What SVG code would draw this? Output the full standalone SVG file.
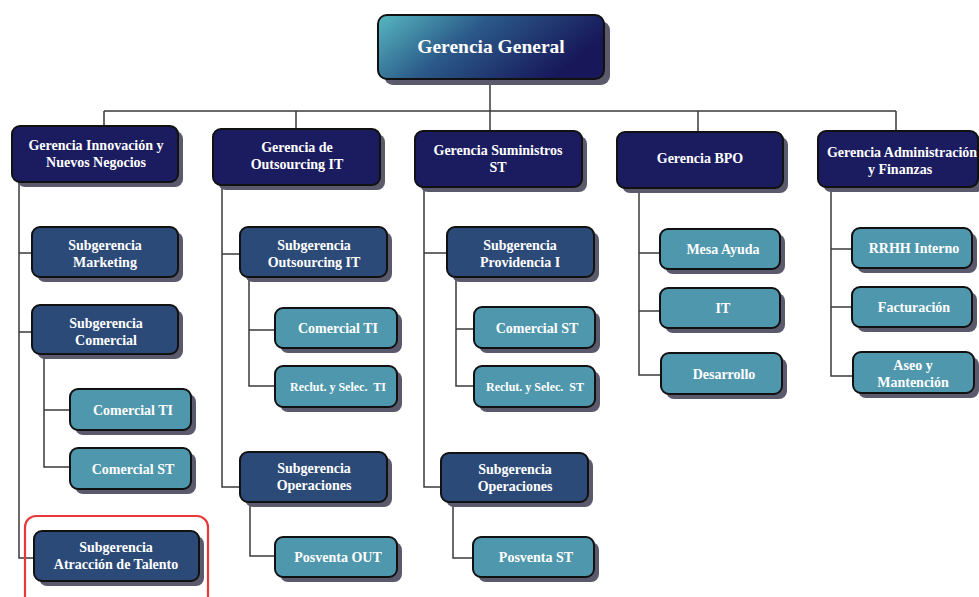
<svg xmlns="http://www.w3.org/2000/svg" width="979" height="597" viewBox="0 0 979 597">
<style>
.sh{fill:#5a5a6c}
.b{stroke:#111;stroke-width:2}
.g{fill:#1b1c60}
.s{fill:#2c4a78}
.l{fill:#4f97ac}
text{font-family:"Liberation Serif","Times New Roman",serif;font-weight:bold;fill:#fff;text-anchor:middle;font-size:14px}
.sm{font-size:12px}
.big{font-size:19.5px}
#connectors path{fill:none;stroke:#3a3a3a;stroke-width:1.5}
</style>
<defs>
<linearGradient id="gg" x1="0" y1="0" x2="1" y2="0.35">
<stop offset="0" stop-color="#57b8c1"/>
<stop offset="0.45" stop-color="#2b5a89"/>
<stop offset="1" stop-color="#17175a"/>
</linearGradient>
</defs>
<rect width="979" height="597" fill="#fff"/>
<g id="connectors">
<path d="M490 79V111M104 111H896M104 111V126M296 111V129M490 111V131M698 111V132M896 111V131"/>
<path d="M19 182V558H34M19 253H32M19 332H32"/>
<path d="M44 354V467H70M44 410H70"/>
<path d="M222 185V487H240M222 254H240"/>
<path d="M249 277V386H275M249 330H275"/>
<path d="M250 502V556H275"/>
<path d="M424 187V487H441M424 253H447"/>
<path d="M456 277V386H474M456 329H474"/>
<path d="M453 502V558H473"/>
<path d="M639 188V375H661M639 253H660M639 311H660"/>
<path d="M831 187V376H853M831 249H852M831 307H852"/>
</g>
<g id="gerencia-general"><rect class="sh" x="384" y="21" width="226" height="64" rx="9"/><rect class="b" fill="url(#gg)" x="378" y="15" width="226" height="64" rx="9"/><text class="big" x="491" y="53">Gerencia General</text></g>
<g id="g-innovacion"><rect class="sh" x="17" y="131" width="166" height="56" rx="8"/><rect class="g b" x="12" y="126" width="166" height="56" rx="8"/><text x="96" y="150">Gerencia Innovación y</text><text x="96" y="167">Nuevos Negocios</text></g>
<g id="g-outsourcing"><rect class="sh" x="218" y="134" width="167" height="56" rx="8"/><rect class="g b" x="213" y="129" width="167" height="56" rx="8"/><text x="297" y="152">Gerencia de</text><text x="297" y="169">Outsourcing IT</text></g>
<g id="g-suministros"><rect class="sh" x="420" y="136" width="167" height="56" rx="8"/><rect class="g b" x="415" y="131" width="167" height="56" rx="8"/><text x="498" y="155">Gerencia Suministros</text><text x="498" y="172">ST</text></g>
<g id="g-bpo"><rect class="sh" x="622" y="137" width="166" height="56" rx="8"/><rect class="g b" x="617" y="132" width="166" height="56" rx="8"/><text x="700" y="163">Gerencia BPO</text></g>
<g id="g-admin"><rect class="sh" x="823" y="136" width="161" height="56" rx="8"/><rect class="g b" x="818" y="131" width="160" height="56" rx="8"/><text x="902" y="157">Gerencia Administración</text><text x="900" y="174">y Finanzas</text></g>
<g id="s-marketing"><rect class="sh" x="37" y="232" width="146" height="50" rx="8"/><rect class="s b" x="32" y="227" width="146" height="50" rx="8"/><text x="105" y="250">Subgerencia</text><text x="105" y="267">Marketing</text></g>
<g id="s-comercial"><rect class="sh" x="37" y="310" width="146" height="49" rx="8"/><rect class="s b" x="32" y="305" width="146" height="49" rx="8"/><text x="106" y="328">Subgerencia</text><text x="106" y="345">Comercial</text></g>
<g id="s-atraccion"><rect class="sh" x="39" y="536" width="165" height="50" rx="8"/><rect class="s b" x="34" y="531" width="165" height="50" rx="8"/><text x="116" y="552">Subgerencia</text><text x="116" y="569">Atracción de Talento</text></g>
<g id="s-outsourcing"><rect class="sh" x="245" y="232" width="147" height="50" rx="8"/><rect class="s b" x="240" y="227" width="147" height="50" rx="8"/><text x="314" y="250">Subgerencia</text><text x="314" y="267">Outsourcing IT</text></g>
<g id="s-operaciones-out"><rect class="sh" x="245" y="457" width="147" height="50" rx="8"/><rect class="s b" x="240" y="452" width="147" height="50" rx="8"/><text x="314" y="473">Subgerencia</text><text x="314" y="490">Operaciones</text></g>
<g id="s-providencia"><rect class="sh" x="452" y="232" width="147" height="50" rx="8"/><rect class="s b" x="447" y="227" width="147" height="50" rx="8"/><text x="520" y="250">Subgerencia</text><text x="520" y="267">Providencia I</text></g>
<g id="s-operaciones-st"><rect class="sh" x="446" y="458" width="147" height="49" rx="8"/><rect class="s b" x="441" y="453" width="147" height="49" rx="8"/><text x="515" y="474">Subgerencia</text><text x="515" y="491">Operaciones</text></g>
<g id="l-comercial-ti"><rect class="sh" x="75" y="394" width="121" height="41" rx="8"/><rect class="l b" x="70" y="389" width="121" height="41" rx="8"/><text x="133" y="415">Comercial TI</text></g>
<g id="l-comercial-st"><rect class="sh" x="75" y="453" width="121" height="41" rx="8"/><rect class="l b" x="70" y="448" width="121" height="41" rx="8"/><text x="133" y="474">Comercial ST</text></g>
<g id="l-out-comercial-ti"><rect class="sh" x="280" y="313" width="122" height="40" rx="8"/><rect class="l b" x="275" y="308" width="122" height="40" rx="8"/><text x="338" y="333">Comercial TI</text></g>
<g id="l-out-reclut"><rect class="sh" x="280" y="371" width="122" height="41" rx="8"/><rect class="l b" x="275" y="366" width="122" height="41" rx="8"/><text class="sm" x="338" y="391" xml:space="preserve">Reclut. y Selec.  TI</text></g>
<g id="l-posventa-out"><rect class="sh" x="280" y="542" width="122" height="40" rx="8"/><rect class="l b" x="275" y="537" width="122" height="40" rx="8"/><text x="338" y="562">Posventa OUT</text></g>
<g id="l-st-comercial"><rect class="sh" x="479" y="312" width="121" height="41" rx="8"/><rect class="l b" x="474" y="307" width="121" height="41" rx="8"/><text x="537" y="333">Comercial ST</text></g>
<g id="l-st-reclut"><rect class="sh" x="479" y="371" width="121" height="41" rx="8"/><rect class="l b" x="474" y="366" width="121" height="41" rx="8"/><text class="sm" x="535" y="391" xml:space="preserve">Reclut. y Selec.  ST</text></g>
<g id="l-posventa-st"><rect class="sh" x="478" y="542" width="121" height="40" rx="8"/><rect class="l b" x="473" y="537" width="121" height="40" rx="8"/><text x="536" y="562">Posventa ST</text></g>
<g id="l-mesa"><rect class="sh" x="665" y="234" width="120" height="40" rx="8"/><rect class="l b" x="660" y="229" width="120" height="40" rx="8"/><text x="723" y="254">Mesa Ayuda</text></g>
<g id="l-it"><rect class="sh" x="665" y="293" width="120" height="40" rx="8"/><rect class="l b" x="660" y="288" width="120" height="40" rx="8"/><text x="723" y="313">IT</text></g>
<g id="l-desarrollo"><rect class="sh" x="666" y="358" width="121" height="41" rx="8"/><rect class="l b" x="661" y="353" width="121" height="41" rx="8"/><text x="724" y="379">Desarrollo</text></g>
<g id="l-rrhh"><rect class="sh" x="857" y="233" width="120" height="40" rx="8"/><rect class="l b" x="852" y="228" width="120" height="40" rx="8"/><text x="914" y="253">RRHH Interno</text></g>
<g id="l-facturacion"><rect class="sh" x="857" y="292" width="120" height="40" rx="8"/><rect class="l b" x="852" y="287" width="120" height="40" rx="8"/><text x="914" y="312">Facturación</text></g>
<g id="l-aseo"><rect class="sh" x="858" y="357" width="121" height="41" rx="8"/><rect class="l b" x="853" y="352" width="121" height="41" rx="8"/><text x="913" y="370">Aseo y</text><text x="913" y="387">Mantención</text></g>
<rect id="highlight" x="25" y="516" width="183" height="95" rx="11" fill="none" stroke="#e8393a" stroke-width="2.2"/>
</svg>
